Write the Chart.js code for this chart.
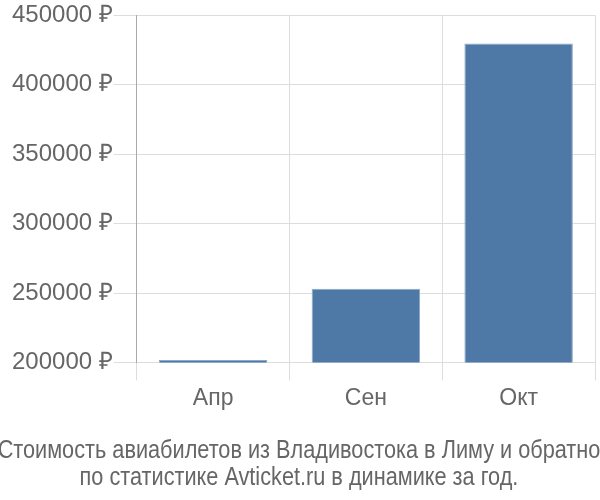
<!DOCTYPE html>
<html>
<head>
<meta charset="utf-8">
<script src="https://cdn.jsdelivr.net/npm/chart.js@4/dist/chart.umd.min.js"></script>
<style>
  html, body { margin: 0; padding: 0; background: #fff; }
  #wrap { width: 600px; height: 500px; }
</style>
</head>
<body>
<div id="wrap"><canvas id="priceChart" width="600" height="500"></canvas></div>
<script>
const months = ["Апр", "Сен", "Окт"];
const prices = [201700, 253000, 429700];
const yTicks = [200000, 250000, 300000, 350000, 400000, 450000];
const titleLines = [
  "Стоимость авиабилетов из Владивостока в Лиму и обратно",
  "по статистике Avticket.ru в динамике за год.",
];

// title drawn a bit condensed, like the original
const bottomTitle = {
  id: "bottomTitle",
  afterDraw(chart) {
    const c = chart.ctx;
    c.save();
    c.fillStyle = "#666";
    c.font = "25px 'Liberation Sans', Arial";
    c.textAlign = "center";
    c.textBaseline = "alphabetic";
    titleLines.forEach((line, i) => {
      c.save();
      c.translate(299, 458 + i * 27);
      c.scale(0.868, 1);
      c.fillText(line, 0, 0);
      c.restore();
    });
    c.restore();
  },
};

const ctx = document.getElementById("priceChart").getContext("2d");

new Chart(ctx, {
  type: "bar",
  data: {
    labels: months,
    datasets: [{
      data: prices,
      backgroundColor: "#4e79a7",
      borderColor: "#8aa8c8",
      borderWidth: 1,
      barPercentage: 0.71,
      categoryPercentage: 1.0,
    }],
  },
  plugins: [bottomTitle],
  options: {
    responsive: false,
    animation: false,
    layout: { padding: { left: 11, right: 5, top: 4, bottom: 84 } },
    plugins: {
      legend: { display: false },
      tooltip: { enabled: false },
      title: { display: false },
    },
    scales: {
      x: {
        grid: { color: "#dddddd", tickLength: 18, offset: true },
        border: { color: "#dddddd" },
        ticks: {
          color: "#666",
          font: { family: "'Liberation Sans', Arial", size: 23 },
          padding: 4,
        },
      },
      y: {
        min: 200000,
        max: 450000,
        afterBuildTicks: (axis) => {
          axis.ticks = yTicks.map((v) => ({ value: v }));
        },
        grid: { color: "#dddddd", tickLength: 23 },
        border: { color: "#aaaaaa" },
        ticks: {
          color: "#666",
          font: { family: "'Liberation Sans', Arial", size: 24 },
          padding: 1,
          callback: (v) => v + " ₽",
        },
      },
    },
  },
});
</script>
</body>
</html>
